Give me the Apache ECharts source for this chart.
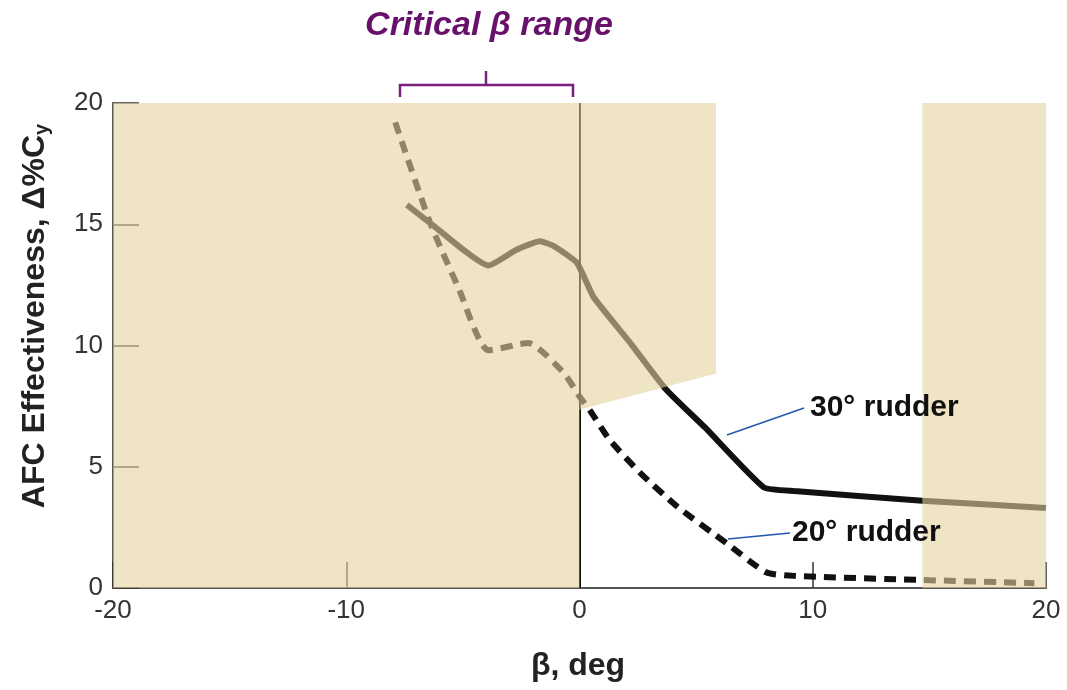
<!DOCTYPE html>
<html>
<head>
<meta charset="utf-8">
<script src="https://cdn.jsdelivr.net/npm/echarts@6.0.0/dist/echarts.min.js"></script>
<style>
  html, body { margin: 0; padding: 0; background: #fff; }
  #main { width: 1067px; height: 690px; }
</style>
</head>
<body>
<div id="main"></div>
<script>
// values, [beta deg, AFC effectiveness]
var xTicks = [-20, -10, 0, 10, 20]
var yTicks = [0, 5, 10, 15, 20]
var rudder30 = [[-7.4, 15.8], [-6.4, 15.05], [-3.9, 13.3], [-2.7, 13.95], [-1.7, 14.3], [-1.1, 14.1],
  [-0.1, 13.4], [0.6, 12.0], [2.1, 10.2], [3.7, 8.2], [5.4, 6.6], [7.9, 4.15], [9.2, 4.0], [14.7, 3.6], [20, 3.3]]
var rudder20 = [[-7.9, 19.2], [-6.4, 15.05], [-5.2, 12.4], [-3.9, 9.8], [-2.2, 10.1], [-0.7, 8.9], [0, 7.9],
  [0.5, 7.25], [1.3, 6.1], [2.6, 4.75], [4.2, 3.35], [6.3, 1.85], [8.0, 0.65], [9.2, 0.5], [14.7, 0.33], [19.5, 0.2]]
// shaded (uncritical) regions, polygon corners in data units
var shadeRegions = [
  [[-20, 0], [-20, 20], [0, 20], [0, 0]],
  [[0, 7.35], [0, 20], [5.85, 20], [5.85, 8.85]],
  [[14.7, 0], [14.7, 20], [20, 20], [20, 0]]
]

var font = '"Liberation Sans", Arial, sans-serif'
var chart = echarts.init(document.getElementById('main'))

var option = {
  animation: false,
  backgroundColor: '#fff',
  grid: { left: 113, right: 21, top: 103, bottom: 102 },
  xAxis: {
    type: 'value', min: xTicks[0], max: xTicks[xTicks.length - 1], interval: 10,
    axisLine: { lineStyle: { color: '#555', width: 2 } },
    axisTick: { inside: true, length: 26, lineStyle: { color: '#333', width: 1.5 } },
    axisLabel: { color: '#333', fontSize: 26, fontFamily: font, margin: 10 },
    splitLine: { show: false }
  },
  yAxis: {
    type: 'value', min: yTicks[0], max: yTicks[yTicks.length - 1], interval: 5,
    axisLine: { show: true, onZero: false, lineStyle: { color: '#555', width: 2 } },
    axisTick: { show: true, inside: true, length: 26, lineStyle: { color: '#333', width: 1.5 } },
    axisLabel: { color: '#333', fontSize: 26, fontFamily: font, margin: 10 },
    splitLine: { show: false }
  },
  series: [
    {
      name: '30° rudder', type: 'line', data: rudder30, z: 2,
      showSymbol: false, smooth: 0.15,
      lineStyle: { color: '#111', width: 6 },
      markLine: {
        silent: true, symbol: 'none', label: { show: false },
        lineStyle: { color: '#111', width: 2, type: 'solid' },
        data: [{ xAxis: 0 }]
      }
    },
    {
      name: '20° rudder', type: 'line', data: rudder20, z: 2,
      showSymbol: false, smooth: 0.2,
      lineStyle: { color: '#111', width: 6, type: [12, 8], cap: 'butt' }
    },
    {
      name: 'shade', type: 'custom', z: 5, silent: true,
      data: shadeRegions.map(function (r) { return r[1] }),
      renderItem: function (params, api) {
        var pts = shadeRegions[params.dataIndex].map(function (p) { return api.coord(p) })
        return { type: 'polygon', shape: { points: pts }, style: { fill: 'rgba(228,210,157,0.6)' } }
      }
    }
  ],
  graphic: [
    // axis titles
    {
      type: 'text', x: 35, y: 316, rotation: Math.PI / 2, z: 10,
      style: {
        text: '{t|AFC Effectiveness, Δ%C}{s|y}', align: 'center', verticalAlign: 'middle',
        rich: {
          t: { fontSize: 32, fontWeight: 'bold', fontFamily: font, fill: '#222' },
          s: { fontSize: 20, fontWeight: 'bold', fontFamily: font, fill: '#222', padding: [14, 0, 0, 0] }
        }
      }
    },
    {
      type: 'text', x: 578, y: 666, z: 10,
      style: { text: 'β, deg', fontSize: 32, fontWeight: 'bold', fontFamily: font, fill: '#222', align: 'center', verticalAlign: 'middle' }
    },
    // critical range heading and bracket
    {
      type: 'text', x: 489, y: 26, z: 10,
      style: { text: 'Critical β range', fontSize: 34, fontWeight: 'bold', fontStyle: 'italic', fontFamily: font, fill: '#68116b', align: 'center', verticalAlign: 'middle' }
    },
    {
      type: 'polyline', z: 10,
      shape: { points: [[400, 97], [400, 85], [573, 85], [573, 97]] },
      style: { stroke: '#7a1f7e', lineWidth: 2.5, fill: null }
    },
    {
      type: 'line', z: 10,
      shape: { x1: 486, y1: 85, x2: 486, y2: 71 },
      style: { stroke: '#7a1f7e', lineWidth: 2.5 }
    },
    // curve labels with leaders
    {
      type: 'line', z: 10,
      shape: { x1: 727, y1: 435, x2: 804, y2: 408 },
      style: { stroke: '#2457b0', lineWidth: 1.5 }
    },
    {
      type: 'text', x: 810, y: 408, z: 10,
      style: { text: '30° rudder', fontSize: 30, fontWeight: 'bold', fontFamily: font, fill: '#111', verticalAlign: 'middle' }
    },
    {
      type: 'line', z: 10,
      shape: { x1: 728, y1: 539, x2: 790, y2: 533 },
      style: { stroke: '#2457b0', lineWidth: 1.5 }
    },
    {
      type: 'text', x: 792, y: 533, z: 10,
      style: { text: '20° rudder', fontSize: 30, fontWeight: 'bold', fontFamily: font, fill: '#111', verticalAlign: 'middle' }
    }
  ]
}

chart.setOption(option)
</script>
</body>
</html>
